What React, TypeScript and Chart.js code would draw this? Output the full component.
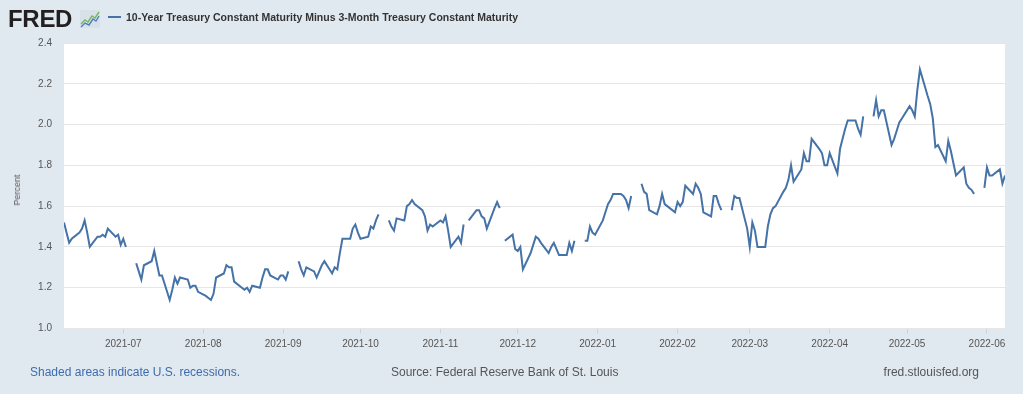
import React, { useEffect, useRef } from "react";
import { Chart, registerables } from "chart.js";

Chart.register(...registerables);

// Business days (holidays kept with null values so the line breaks)
const dates: string[] = [
  "2021-06-08","2021-06-09","2021-06-10","2021-06-11","2021-06-14","2021-06-15","2021-06-16","2021-06-17","2021-06-18",
  "2021-06-21","2021-06-22","2021-06-23","2021-06-24","2021-06-25","2021-06-28","2021-06-29","2021-06-30",
  "2021-07-01","2021-07-02","2021-07-05","2021-07-06","2021-07-07","2021-07-08","2021-07-09","2021-07-12","2021-07-13",
  "2021-07-14","2021-07-15","2021-07-16","2021-07-19","2021-07-20","2021-07-21","2021-07-22","2021-07-23","2021-07-26",
  "2021-07-27","2021-07-28","2021-07-29","2021-07-30",
  "2021-08-02","2021-08-03","2021-08-04","2021-08-05","2021-08-06","2021-08-09","2021-08-10","2021-08-11","2021-08-12",
  "2021-08-13","2021-08-16","2021-08-17","2021-08-18","2021-08-19","2021-08-20","2021-08-23","2021-08-24","2021-08-25",
  "2021-08-26","2021-08-27","2021-08-30","2021-08-31",
  "2021-09-01","2021-09-02","2021-09-03","2021-09-06","2021-09-07","2021-09-08","2021-09-09","2021-09-10","2021-09-13",
  "2021-09-14","2021-09-15","2021-09-16","2021-09-17","2021-09-20","2021-09-21","2021-09-22","2021-09-23","2021-09-24",
  "2021-09-27","2021-09-28","2021-09-29","2021-09-30",
  "2021-10-01","2021-10-04","2021-10-05","2021-10-06","2021-10-07","2021-10-08","2021-10-11","2021-10-12","2021-10-13",
  "2021-10-14","2021-10-15","2021-10-18","2021-10-19","2021-10-20","2021-10-21","2021-10-22","2021-10-25","2021-10-26",
  "2021-10-27","2021-10-28","2021-10-29",
  "2021-11-01","2021-11-02","2021-11-03","2021-11-04","2021-11-05","2021-11-08","2021-11-09","2021-11-10","2021-11-11",
  "2021-11-12","2021-11-15","2021-11-16","2021-11-17","2021-11-18","2021-11-19","2021-11-22","2021-11-23","2021-11-24",
  "2021-11-25","2021-11-26","2021-11-29","2021-11-30",
  "2021-12-01","2021-12-02","2021-12-03","2021-12-06","2021-12-07","2021-12-08","2021-12-09","2021-12-10","2021-12-13",
  "2021-12-14","2021-12-15","2021-12-16","2021-12-17","2021-12-20","2021-12-21","2021-12-22","2021-12-23","2021-12-24",
  "2021-12-27","2021-12-28","2021-12-29","2021-12-30","2021-12-31",
  "2022-01-03","2022-01-04","2022-01-05","2022-01-06","2022-01-07","2022-01-10","2022-01-11","2022-01-12","2022-01-13",
  "2022-01-14","2022-01-17","2022-01-18","2022-01-19","2022-01-20","2022-01-21","2022-01-24","2022-01-25","2022-01-26",
  "2022-01-27","2022-01-28","2022-01-31",
  "2022-02-01","2022-02-02","2022-02-03","2022-02-04","2022-02-07","2022-02-08","2022-02-09","2022-02-10","2022-02-11",
  "2022-02-14","2022-02-15","2022-02-16","2022-02-17","2022-02-18","2022-02-21","2022-02-22","2022-02-23","2022-02-24",
  "2022-02-25","2022-02-28",
  "2022-03-01","2022-03-02","2022-03-03","2022-03-04","2022-03-07","2022-03-08","2022-03-09","2022-03-10","2022-03-11",
  "2022-03-14","2022-03-15","2022-03-16","2022-03-17","2022-03-18","2022-03-21","2022-03-22","2022-03-23","2022-03-24",
  "2022-03-25","2022-03-28","2022-03-29","2022-03-30","2022-03-31",
  "2022-04-01","2022-04-04","2022-04-05","2022-04-06","2022-04-07","2022-04-08","2022-04-11","2022-04-12","2022-04-13",
  "2022-04-14","2022-04-15","2022-04-18","2022-04-19","2022-04-20","2022-04-21","2022-04-22","2022-04-25","2022-04-26",
  "2022-04-27","2022-04-28","2022-04-29",
  "2022-05-02","2022-05-03","2022-05-04","2022-05-05","2022-05-06","2022-05-09","2022-05-10","2022-05-11","2022-05-12",
  "2022-05-13","2022-05-16","2022-05-17","2022-05-18","2022-05-19","2022-05-20","2022-05-23","2022-05-24","2022-05-25",
  "2022-05-26","2022-05-27","2022-05-30","2022-05-31",
  "2022-06-01","2022-06-02","2022-06-03","2022-06-06","2022-06-07","2022-06-08",
];

const spread: (number | null)[] = [
  // Jun 2021
  1.52, 1.47, 1.42, 1.44, 1.47, 1.49, 1.53, 1.47, 1.40,
  1.45, 1.45, 1.46, 1.45, 1.49, 1.45, 1.46, 1.41,
  // Jul 2021
  1.44, 1.40, null, 1.32, 1.28, 1.24, 1.31, 1.33, 1.38,
  1.32, 1.26, 1.26, 1.14, 1.19, 1.25, 1.22, 1.25, 1.24,
  1.20, 1.21, 1.21, 1.18,
  // Aug 2021
  1.16, 1.15, 1.14, 1.17, 1.25, 1.27, 1.31, 1.30, 1.30,
  1.23, 1.20, 1.19, 1.20, 1.18, 1.21, 1.20, 1.25, 1.29,
  1.29, 1.26, 1.24, 1.26,
  // Sep 2021
  1.26, 1.24, 1.28, null, 1.33, 1.29, 1.26, 1.30, 1.28,
  1.25, 1.28, 1.31, 1.33, 1.27, 1.30, 1.29, 1.37, 1.44,
  1.44, 1.49, 1.51, 1.47,
  // Oct 2021
  1.44, 1.45, 1.50, 1.49, 1.53, 1.56, null, 1.53, 1.50,
  1.48, 1.54, 1.53, 1.60, 1.61, 1.63, 1.61, 1.58, 1.55,
  1.48, 1.51, 1.50,
  // Nov 2021
  1.53, 1.52, 1.55, 1.48, 1.40, 1.45, 1.42, 1.51, null,
  1.53, 1.58, 1.58, 1.55, 1.54, 1.49, 1.59, 1.62, 1.59,
  null, 1.43, 1.46, 1.39,
  // Dec 2021
  1.38, 1.40, 1.29, 1.37, 1.41, 1.45, 1.44, 1.42, 1.37,
  1.40, 1.42, 1.39, 1.36, 1.36, 1.42, 1.38, 1.43, null,
  1.43, 1.43, 1.50, 1.47, 1.46,
  // Jan 2022
  1.53, 1.57, 1.61, 1.63, 1.66, 1.66, 1.65, 1.63, 1.59,
  1.65, null, 1.71, 1.67, 1.66, 1.58, 1.56, 1.60, 1.66,
  1.61, 1.60, 1.57,
  // Feb 2022
  1.62, 1.60, 1.62, 1.70, 1.66, 1.71, 1.69, 1.66, 1.57,
  1.55, 1.65, 1.65, 1.61, 1.58, null, 1.58, 1.65, 1.64,
  1.64, 1.49,
  // Mar 2022
  1.40, 1.52, 1.48, 1.40, 1.40, 1.50, 1.56, 1.59, 1.60,
  1.67, 1.69, 1.73, 1.80, 1.72, 1.78, 1.86, 1.82, 1.82,
  1.93, 1.88, 1.86, 1.80, 1.80,
  // Apr 2022
  1.86, 1.76, 1.88, 1.93, 1.98, 2.02, 2.02, 1.98, 1.95,
  2.04, null, 2.04, 2.12, 2.04, 2.07, 2.07, 1.90, 1.93,
  1.97, 2.01, 2.03,
  // May 2022
  2.09, 2.07, 2.04, 2.17, 2.27, 2.14, 2.10, 2.03, 1.89,
  1.90, 1.82, 1.92, 1.87, 1.81, 1.75, 1.79, 1.71, 1.69,
  1.68, 1.66, null, 1.69,
  // Jun 2022
  1.79, 1.75, 1.75, 1.78, 1.71, 1.75,
];

const rangeStart = "2021-06-08";
const rangeEnd = "2022-06-08";
const monthTicks: string[] = [
  "2021-07-01","2021-08-01","2021-09-01","2021-10-01","2021-11-01","2021-12-01",
  "2022-01-01","2022-02-01","2022-03-01","2022-04-01","2022-05-01","2022-06-01",
];
const monthTickLabels: string[] = [
  "2021-07","2021-08","2021-09","2021-10","2021-11","2021-12",
  "2022-01","2022-02","2022-03","2022-04","2022-05","2022-06",
];

const seriesTitle = "10-Year Treasury Constant Maturity Minus 3-Month Treasury Constant Maturity";

const toDay = (s: string) => {
  const [y, m, d] = s.split("-").map(Number);
  return Date.UTC(y, m - 1, d) / 86400000;
};

const FONT = "'Liberation Sans', Arial, Helvetica, sans-serif";

export default function App() {
  const ref = useRef<HTMLCanvasElement | null>(null);

  useEffect(() => {
    if (!ref.current) return;
    const tickDays = monthTicks.map(toDay);
    const bgPlugin = {
      id: "plotBg",
      beforeDraw(chart: any) {
        const { ctx, chartArea: a } = chart;
        ctx.save();
        ctx.fillStyle = "#e1e9f0";
        ctx.fillRect(0, 0, chart.width, chart.height);
        ctx.fillStyle = "#ffffff";
        ctx.fillRect(a.left, a.top, a.right - a.left, a.bottom - a.top);
        ctx.restore();
      },
    };
    const chart = new Chart(ref.current, {
      type: "line",
      data: {
        datasets: [
          {
            data: dates.map((d, i) => ({ x: toDay(d), y: spread[i] })) as any,
            borderColor: "#4572a7",
            borderWidth: 2,
            pointRadius: 0,
            tension: 0,
            fill: false,
            spanGaps: false,
          },
        ],
      },
      options: {
        responsive: false,
        animation: false,
        events: [],
        layout: { padding: { top: 43, right: 18, bottom: 35.5, left: 0 } },
        plugins: { legend: { display: false }, tooltip: { enabled: false } },
        scales: {
          x: {
            type: "linear",
            min: toDay(rangeStart),
            max: toDay(rangeEnd),
            afterBuildTicks: (s: any) => {
              s.ticks = tickDays.map((v) => ({ value: v }));
            },
            afterFit: (s: any) => {
              s.height = 30;
            },
            ticks: {
              autoSkip: false,
              maxRotation: 0,
              padding: 5,
              color: "#555555",
              font: { family: FONT, size: 10 },
              callback: (v: any) => {
                const i = tickDays.indexOf(Number(v));
                return i >= 0 ? monthTickLabels[i] : "";
              },
            },
            grid: { drawOnChartArea: false, drawTicks: true, tickLength: 5, color: "#c9d3dd" },
            border: { display: false },
          },
          y: {
            min: 1.0,
            max: 2.4,
            afterFit: (s: any) => {
              s.width = 64;
            },
            ticks: {
              stepSize: 0.2,
              padding: 12,
              color: "#555555",
              font: { family: FONT, size: 10 },
              callback: (v: any) => Number(v).toFixed(1),
            },
            grid: { color: "#e6e6e6", drawTicks: false },
            border: { display: false },
          },
        },
      },
      plugins: [bgPlugin],
    });
    return () => chart.destroy();
  }, []);

  const abs = (s: React.CSSProperties): React.CSSProperties => ({ position: "absolute", whiteSpace: "nowrap", fontFamily: FONT, ...s });

  return (
    <div style={{ position: "absolute", left: 0, top: 0, width: 1023, height: 394, background: "#e1e9f0", overflow: "hidden" }}>
      <canvas ref={ref} width={1023} height={394} style={{ position: "absolute", left: 0, top: 0, width: 1023, height: 394 }} />
      <div style={abs({ left: 8, top: 7, fontSize: 24, lineHeight: "24px", fontWeight: 700, color: "#231f20", letterSpacing: "-0.3px" })}>FRED</div>
      <svg width={20} height={18} style={{ position: "absolute", left: 80, top: 10 }}>
        <rect x={0} y={0} width={20} height={18} fill="#d9e1e8" />
        <polyline points="1,14 5,10 8,12 12,6 15,8 19,2" stroke="#7bb661" strokeWidth={1.4} fill="none" />
        <polyline points="1,17 5,13 9,15 13,9 16,11 19,6" stroke="#4f80bd" strokeWidth={1.4} fill="none" />
      </svg>
      <div style={{ position: "absolute", left: 108, top: 16, width: 13, height: 2, background: "#4572a7" }} />
      <div style={abs({ left: 126, top: 11, fontSize: 10.5, lineHeight: "12px", fontWeight: 700, color: "#333333" })}>{seriesTitle}</div>
      <div style={abs({ left: 17, top: 190, fontSize: 9, lineHeight: "10px", color: "#555555", transform: "translate(-50%, -50%) rotate(-90deg)" })}>Percent</div>
      <div style={abs({ left: 30, top: 365, fontSize: 12, lineHeight: "14px", color: "#3d6cae" })}>Shaded areas indicate U.S. recessions.</div>
      <div style={abs({ left: 391, top: 365, fontSize: 12, lineHeight: "14px", color: "#555555" })}>Source: Federal Reserve Bank of St. Louis</div>
      <div style={abs({ right: 1023 - 979, top: 365, fontSize: 12, lineHeight: "14px", color: "#555555" })}>fred.stlouisfed.org</div>
    </div>
  );
}
